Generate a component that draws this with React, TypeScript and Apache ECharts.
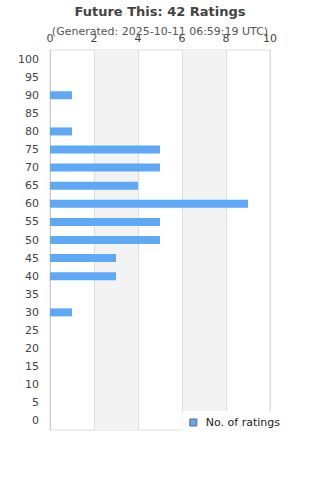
import React, { useEffect, useRef } from "react";
import * as echarts from "echarts";

const categories = ["0","5","10","15","20","25","30","35","40","45","50","55","60","65","70","75","80","85","90","95","100"];
const ratings = [0,0,0,0,0,0,1,0,3,3,5,5,9,4,5,5,1,0,1,0,0];
const xTicks = [0, 2, 4, 6, 8, 10];

export default function App() {
  const ref = useRef<HTMLDivElement>(null);
  useEffect(() => {
    const chart = echarts.init(ref.current!, null, { renderer: "svg" });
    chart.setOption({
      animation: false,
      title: [
        { text: "Future This: 42 Ratings", left: "center", top: 0, textStyle: { fontSize: 13, fontWeight: "bold", color: "#444", fontFamily: "DejaVu Sans" } },
        { text: "(Generated: 2025-10-11 06:59:19 UTC)", left: "center", top: 21, textStyle: { fontSize: 11, fontWeight: "normal", color: "#555", fontFamily: "DejaVu Sans" } },
      ],
      grid: { left: 50, right: 50, top: 50, bottom: 50, show: true, borderColor: "#ddd", borderWidth: 1 },
      legend: {
        show: true,
        right: 30,
        bottom: 46,
        orient: "horizontal",
        backgroundColor: "#fff",
        padding: [6, 10, 6, 7],
        itemWidth: 7,
        itemHeight: 7,
        itemGap: 10,
        textStyle: { fontSize: 11, color: "#222", fontFamily: "DejaVu Sans", padding: [0, 0, 0, 4] },
        data: [{ name: "No. of ratings", icon: "rect", itemStyle: { borderColor: "#666", borderWidth: 1 } }],
      },
      xAxis: {
        type: "value",
        position: "top",
        min: xTicks[0],
        max: xTicks[xTicks.length - 1],
        interval: 2,
        axisLine: { show: false },
        axisTick: { show: false },
        axisLabel: { fontSize: 11, color: "#444", margin: 6, fontFamily: "DejaVu Sans" },
        splitLine: { show: true, lineStyle: { color: "#ddd" } },
        splitArea: { show: true, areaStyle: { color: ["rgba(255,255,255,0)", "#f3f3f3"] } },
      },
      yAxis: {
        type: "category",
        data: categories,
        axisLine: { show: true, lineStyle: { color: "#ccc" } },
        axisTick: { show: false },
        axisLabel: { fontSize: 11, color: "#444", margin: 11, fontFamily: "DejaVu Sans" },
        splitLine: { show: false },
      },
      series: [
        {
          name: "No. of ratings",
          type: "bar",
          data: ratings,
          barWidth: 8,
          itemStyle: { color: "#5fa8f5" },
        },
      ],
    });
    return () => chart.dispose();
  }, []);
  return <div ref={ref} style={{ width: 320, height: 480, position: "absolute", left: 0, top: 0 }} />;
}
